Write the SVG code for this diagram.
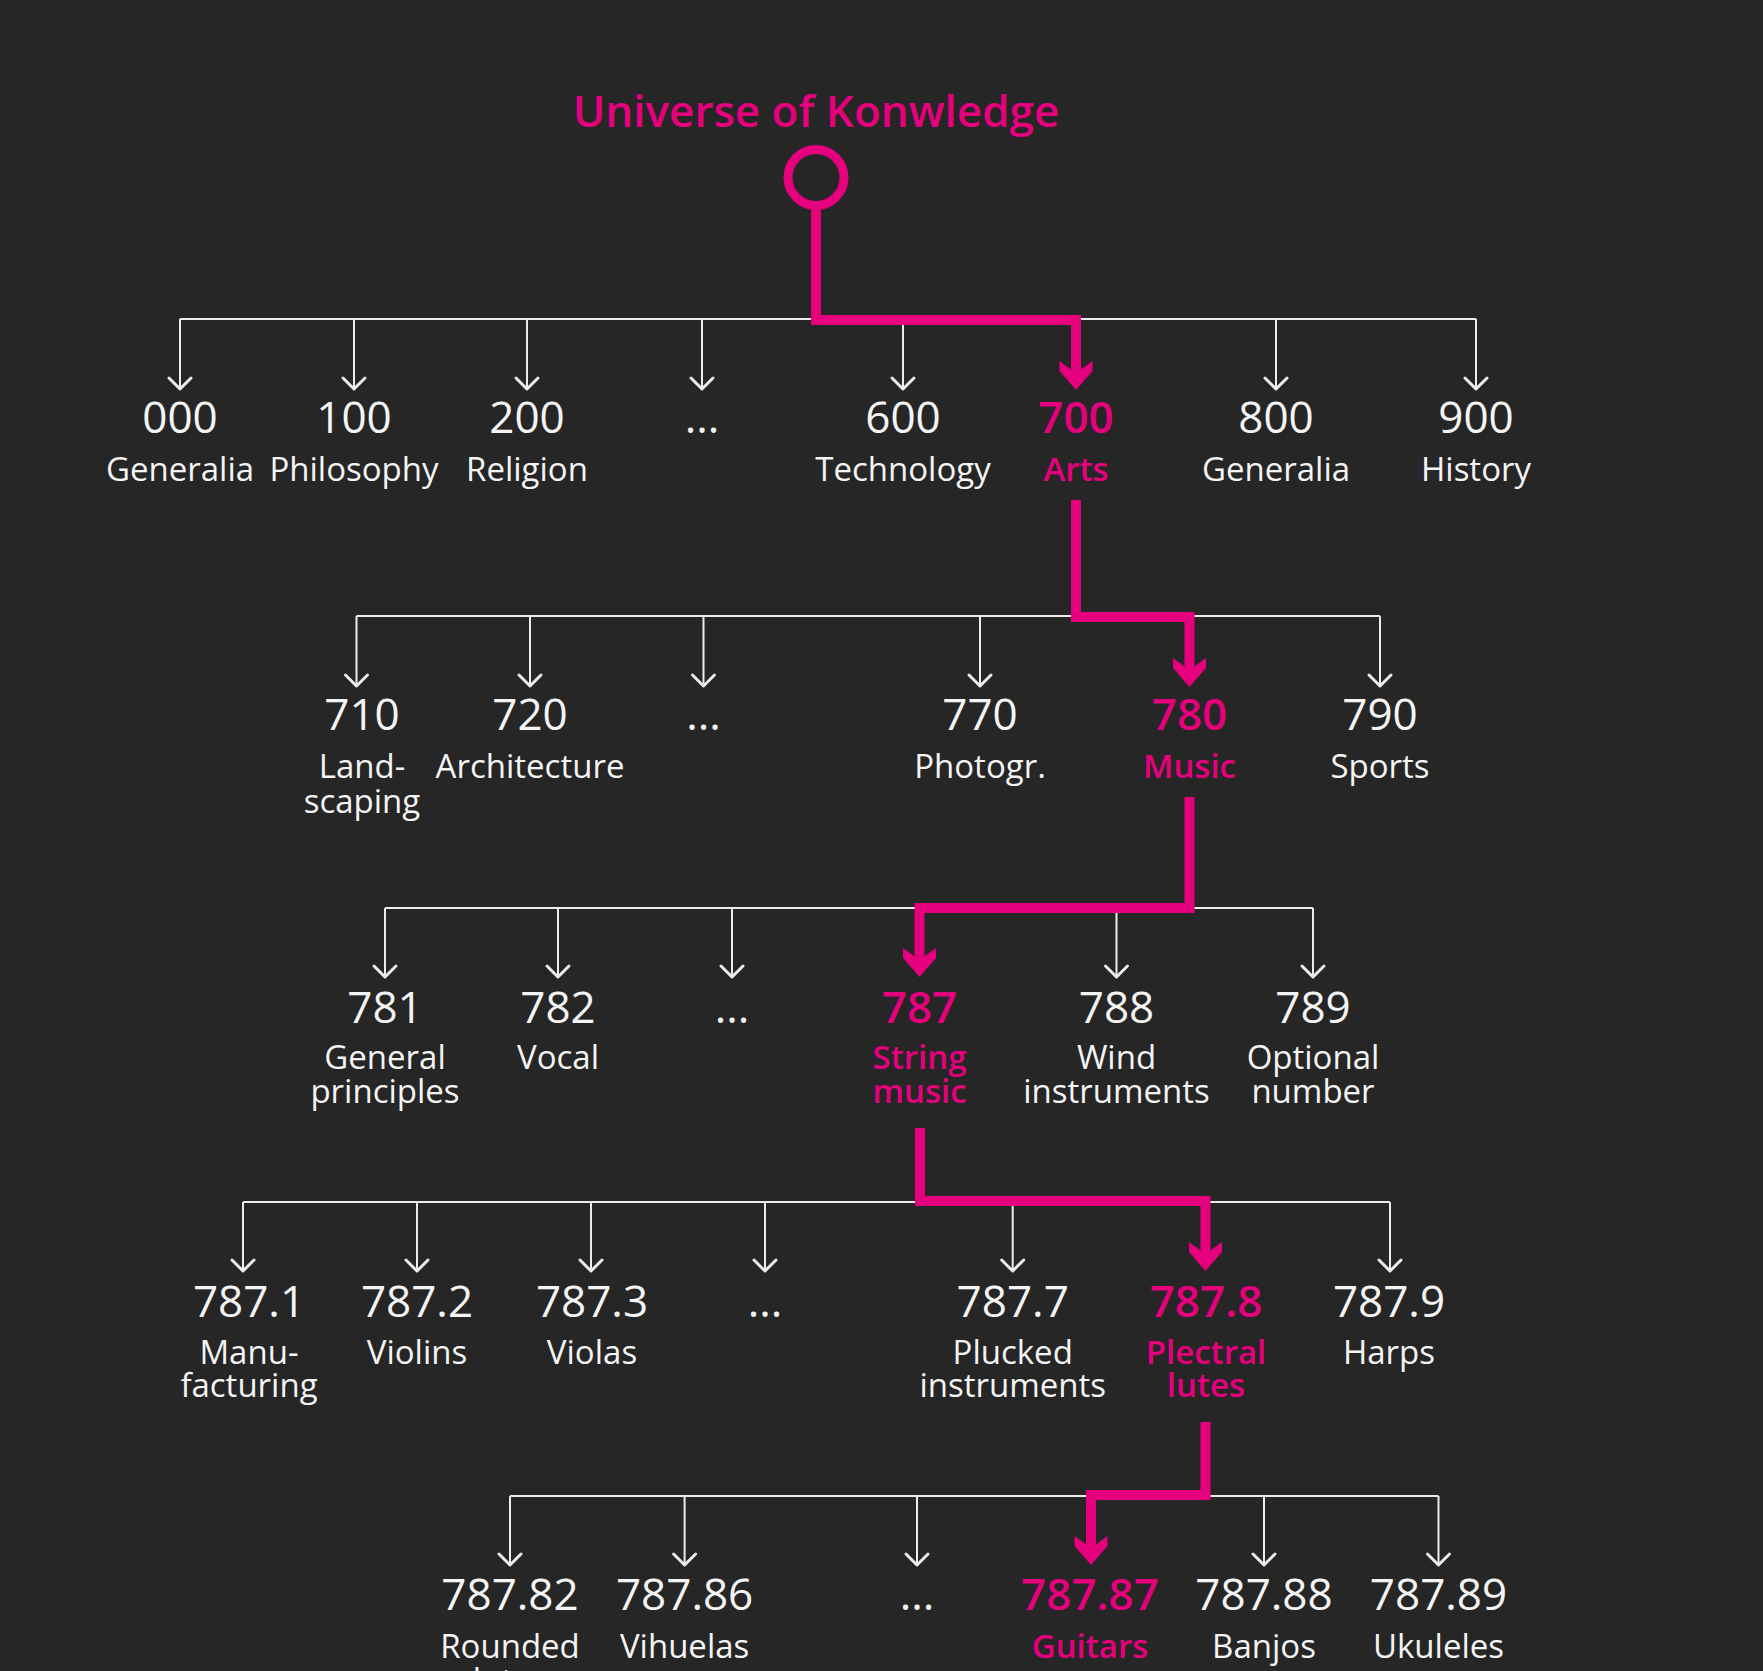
<svg xmlns="http://www.w3.org/2000/svg" width="1763" height="1671" viewBox="0 0 1763 1671">
<style>
.num{font-family:"Open Sans","Liberation Sans",sans-serif;font-size:44px;fill:#f4f4f4;text-anchor:middle}
.lab{font-family:"Open Sans","Liberation Sans",sans-serif;font-size:33px;fill:#f4f4f4;text-anchor:middle}
.hl .num,.hl .lab{fill:#e5007d;font-weight:600}
.title{font-family:"Open Sans","Liberation Sans",sans-serif;font-size:44px;font-weight:600;fill:#e5007d;text-anchor:middle}
.wl{fill:none;stroke:#ececec;stroke-width:2}
.wa{fill:none;stroke:#ececec;stroke-width:2;marker-end:url(#wArrow)}
.pk{fill:none;stroke:#e5007d;stroke-width:10;stroke-linejoin:miter;marker-end:url(#pArrow)}
</style>
<defs>
<marker id="wArrow" markerUnits="userSpaceOnUse" viewBox="-14 -14 17 28" refX="0" refY="0" markerWidth="17" markerHeight="28" orient="auto">
<path d="M-11,-11 L0,0 L-11,11" fill="none" stroke="#ececec" stroke-width="3" stroke-linecap="round" stroke-linejoin="round"/>
</marker>
<marker id="pArrow" markerUnits="userSpaceOnUse" viewBox="-30 -18 32 36" refX="-17" refY="0" markerWidth="32" markerHeight="36" orient="auto">
<polygon points="0,0 -19,-16.5 -29,-16.5 -17,0 -29,16.5 -19,16.5" fill="#e5007d"/>
</marker>
</defs>
<rect x="0" y="0" width="1763" height="1671" fill="#262626"/>

<g id="connectors">
<path class="wl" d="M180,319 H1476"/>
<path class="wa" d="M180,319 V389"/>
<path class="wa" d="M354,319 V389"/>
<path class="wa" d="M527,319 V389"/>
<path class="wa" d="M702,319 V389"/>
<path class="wa" d="M903,319 V389"/>
<path class="wa" d="M1276,319 V389"/>
<path class="wa" d="M1476,319 V389"/>

<path class="wl" d="M356.5,616 H1380"/>
<path class="wa" d="M356.5,616 V686"/>
<path class="wa" d="M530,616 V686"/>
<path class="wa" d="M703.5,616 V686"/>
<path class="wa" d="M980,616 V686"/>
<path class="wa" d="M1380,616 V686"/>

<path class="wl" d="M385,908 H1313"/>
<path class="wa" d="M385,908 V977"/>
<path class="wa" d="M558,908 V977"/>
<path class="wa" d="M732,908 V977"/>
<path class="wa" d="M1116.5,908 V977"/>
<path class="wa" d="M1313,908 V977"/>

<path class="wl" d="M243,1202 H1390"/>
<path class="wa" d="M243,1202 V1271"/>
<path class="wa" d="M417,1202 V1271"/>
<path class="wa" d="M591,1202 V1271"/>
<path class="wa" d="M765,1202 V1271"/>
<path class="wa" d="M1012.7,1202 V1271"/>
<path class="wa" d="M1390,1202 V1271"/>

<path class="wl" d="M510,1496 H1438.5"/>
<path class="wa" d="M510,1496 V1565"/>
<path class="wa" d="M684.6,1496 V1565"/>
<path class="wa" d="M917,1496 V1565"/>
<path class="wa" d="M1264,1496 V1565"/>
<path class="wa" d="M1438.5,1496 V1565"/>

<path class="pk" d="M816,206 V320 H1076 V373"/>
<path class="pk" d="M1076,500 V617 H1189.5 V670"/>
<path class="pk" d="M1189.5,797 V908 H919.5 V960"/>
<path class="pk" d="M920,1128 V1201 H1205.5 V1254"/>
<path class="pk" d="M1205.5,1422 V1495 H1091 V1548"/>
</g>

<g id="root">
<text class="title" x="816" y="127">Universe of Konwledge</text>
<circle cx="816" cy="177.5" r="28" fill="none" stroke="#e5007d" stroke-width="9"/>
</g>

<g id="n000"><text class="num" x="180" y="433">000</text><text class="lab" x="180" y="481">Generalia</text></g>
<g id="n100"><text class="num" x="354" y="433">100</text><text class="lab" x="354" y="481">Philosophy</text></g>
<g id="n200"><text class="num" x="527" y="433">200</text><text class="lab" x="527" y="481">Religion</text></g>
<g id="n1dots"><text class="num" x="702" y="433">...</text></g>
<g id="n600"><text class="num" x="903" y="433">600</text><text class="lab" x="903" y="481">Technology</text></g>
<g id="n700" class="hl"><text class="num" x="1076" y="433">700</text><text class="lab" x="1076" y="481">Arts</text></g>
<g id="n800"><text class="num" x="1276" y="433">800</text><text class="lab" x="1276" y="481">Generalia</text></g>
<g id="n900"><text class="num" x="1476" y="433">900</text><text class="lab" x="1476" y="481">History</text></g>

<g id="n710"><text class="num" x="362" y="730">710</text><text class="lab" x="362" y="778">Land-<tspan x="362" dy="35">scaping</tspan></text></g>
<g id="n720"><text class="num" x="530" y="730">720</text><text class="lab" x="530" y="778">Architecture</text></g>
<g id="n2dots"><text class="num" x="703.5" y="730">...</text></g>
<g id="n770"><text class="num" x="980" y="730">770</text><text class="lab" x="980" y="778">Photogr.</text></g>
<g id="n780" class="hl"><text class="num" x="1189.5" y="730">780</text><text class="lab" x="1189.5" y="778">Music</text></g>
<g id="n790"><text class="num" x="1380" y="730">790</text><text class="lab" x="1380" y="778">Sports</text></g>

<g id="n781"><text class="num" x="385" y="1023">781</text><text class="lab" x="385" y="1069">General<tspan x="385" dy="34">principles</tspan></text></g>
<g id="n782"><text class="num" x="558" y="1023">782</text><text class="lab" x="558" y="1069">Vocal</text></g>
<g id="n3dots"><text class="num" x="732" y="1023">...</text></g>
<g id="n787" class="hl"><text class="num" x="919.5" y="1023">787</text><text class="lab" x="919.5" y="1069">String<tspan x="919.5" dy="34">music</tspan></text></g>
<g id="n788"><text class="num" x="1116.5" y="1023">788</text><text class="lab" x="1116.5" y="1069">Wind<tspan x="1116.5" dy="34">instruments</tspan></text></g>
<g id="n789"><text class="num" x="1313" y="1023">789</text><text class="lab" x="1313" y="1069">Optional<tspan x="1313" dy="34">number</tspan></text></g>

<g id="n787_1"><text class="num" x="249" y="1317">787.1</text><text class="lab" x="249" y="1364">Manu-<tspan x="249" dy="33">facturing</tspan></text></g>
<g id="n787_2"><text class="num" x="417" y="1317">787.2</text><text class="lab" x="417" y="1364">Violins</text></g>
<g id="n787_3"><text class="num" x="592" y="1317">787.3</text><text class="lab" x="592" y="1364">Violas</text></g>
<g id="n4dots"><text class="num" x="765" y="1317">...</text></g>
<g id="n787_7"><text class="num" x="1012.7" y="1317">787.7</text><text class="lab" x="1012.7" y="1364">Plucked<tspan x="1012.7" dy="33">instruments</tspan></text></g>
<g id="n787_8" class="hl"><text class="num" x="1206" y="1317">787.8</text><text class="lab" x="1206" y="1364">Plectral<tspan x="1206" dy="33">lutes</tspan></text></g>
<g id="n787_9"><text class="num" x="1389" y="1317">787.9</text><text class="lab" x="1389" y="1364">Harps</text></g>

<g id="n787_82"><text class="num" x="510" y="1610">787.82</text><text class="lab" x="510" y="1658">Rounded<tspan x="510" dy="34">lutes</tspan></text></g>
<g id="n787_86"><text class="num" x="684.6" y="1610">787.86</text><text class="lab" x="684.6" y="1658">Vihuelas</text></g>
<g id="n5dots"><text class="num" x="917" y="1610">...</text></g>
<g id="n787_87" class="hl"><text class="num" x="1090" y="1610">787.87</text><text class="lab" x="1090" y="1658">Guitars</text></g>
<g id="n787_88"><text class="num" x="1264" y="1610">787.88</text><text class="lab" x="1264" y="1658">Banjos</text></g>
<g id="n787_89"><text class="num" x="1438.5" y="1610">787.89</text><text class="lab" x="1438.5" y="1658">Ukuleles</text></g>
</svg>
